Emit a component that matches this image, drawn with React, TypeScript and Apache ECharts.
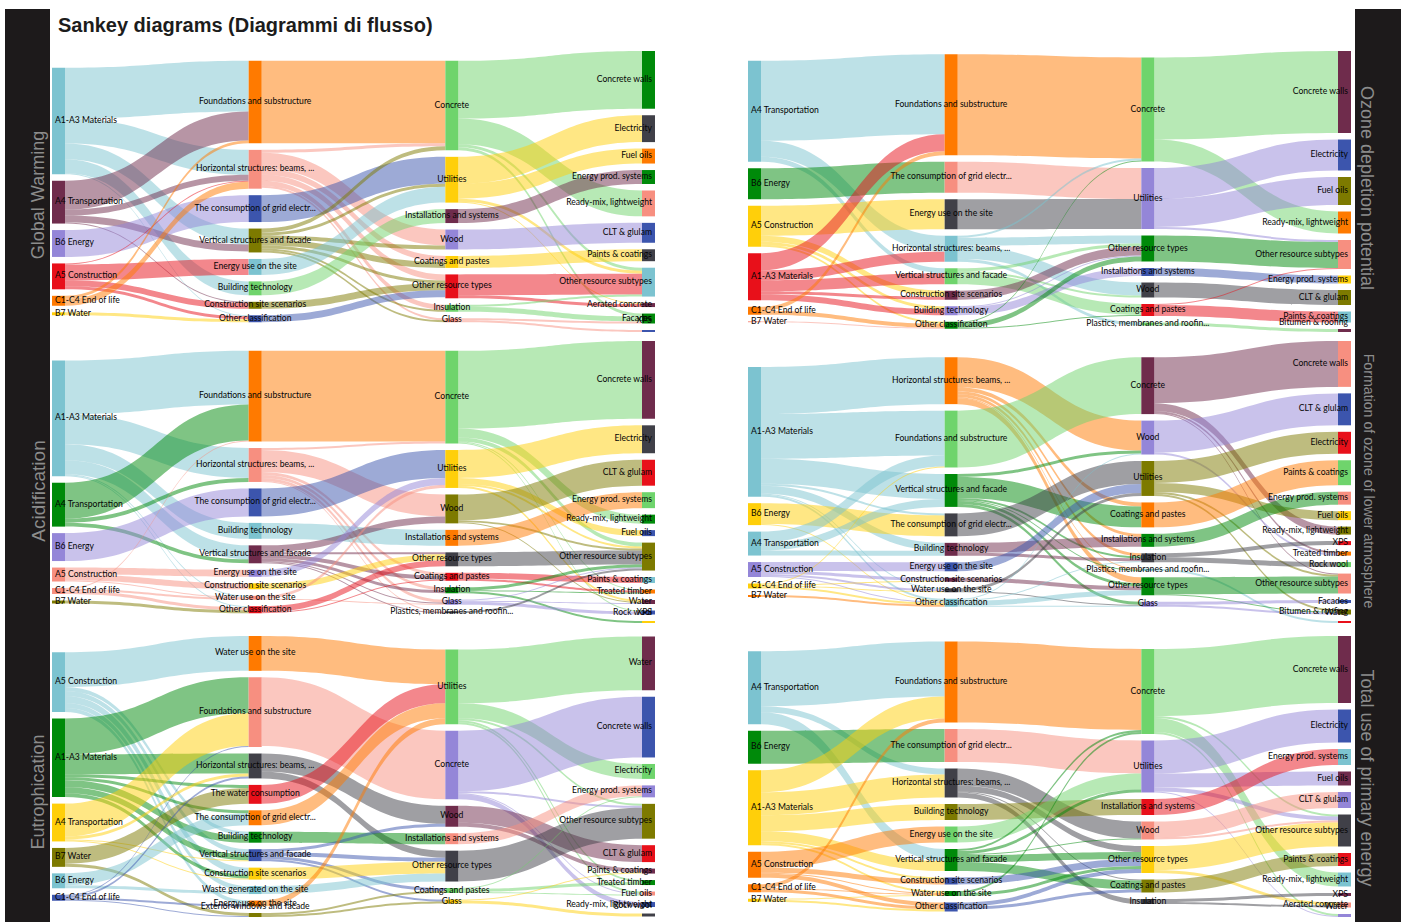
import React, { useEffect, useRef } from "react";
import * as echarts from "echarts";

const T = "#7cc3d0", M = "#6f2c4c", P = "#9486d8", R = "#e8101a", O = "#ff7a00", Y = "#ffcf0a";
const DG = "#008a0a", G = "#6fd46c", B = "#3c55ad", S = "#f78f80", L = "#7d7a00", K = "#404048";

type Flow = [number, number, number];

const START = ["A1-A3 Materials", "A4 Transportation", "B6 Energy", "A5 Construction", "C1-C4 End of life", "B7 Water"];

// Global Warming
const gwCols = [
  START,
  ["Foundations and substructure", "Horizontal structures: beams, ...", "The consumption of grid electr...", "Vertical structures and facade", "Energy use on the site", "Building technology", "Construction site scenarios", "Other classification"],
  ["Concrete", "Utilities", "Installations and systems", "Wood", "Coatings and pastes", "Other resource types", "Insulation", "Glass"],
  ["Concrete walls", "Electricity", "Fuel oils", "Energy prod. systems", "Ready-mix, lightweight", "CLT & glulam", "Paints & coatings", "Other resource subtypes", "Aerated concrete", "Facades", "XPS"],
];
const gw12: Flow[] = [[0,0,51],[0,1,25],[0,3,16],[0,5,14],[0,7,1],[1,0,29],[1,1,6],[1,3,7],[1,6,1],[2,2,27],[3,4,16],[3,6,6],[3,7,3],[3,1,1],[4,0,3],[4,1,7],[5,7,3]];
const gw23: Flow[] = [[0,0,83],[1,3,16],[1,0,3],[1,4,6],[1,5,6],[1,6,5],[1,7,2],[2,1,27],[3,0,4],[3,1,3],[3,3,4],[3,4,6],[3,5,3],[3,6,2],[3,7,2],[4,1,16],[5,2,14],[6,5,7],[7,5,7]];
const gw34: Flow[] = [[0,0,58],[0,4,26],[0,7,3],[0,9,3],[1,1,27],[1,2,15],[1,7,3],[1,8,1],[2,3,14],[3,5,20],[4,6,12],[5,7,21],[5,8,3],[6,9,5],[6,7,2],[7,10,2],[7,9,2]];
const gwColors = [[T,M,P,R,O,Y],[O,S,B,L,T,G,L,B],[G,Y,M,P,Y,R,G,S],[DG,K,O,DG,S,B,K,T,M,DG,B]];

// Acidification
const acCols = [
  START,
  ["Foundations and substructure", "Horizontal structures: beams, ...", "The consumption of grid electr...", "Building technology", "Vertical structures and facade", "Energy use on the site", "Construction site scenarios", "Water use on the site", "Other classification"],
  ["Concrete", "Utilities", "Wood", "Installations and systems", "Other resource types", "Coatings and pastes", "Insulation", "Glass", "Plastics, membranes and roofin..."],
  ["Concrete walls", "Electricity", "CLT & glulam", "Energy prod. systems", "Ready-mix, lightweight", "Fuel oils", "Other resource subtypes", "Paints & coatings", "Treated timber", "Water", "Rock wool", "XPS"],
];
const ac12: Flow[] = [[0,0,54],[0,1,30],[0,3,16],[0,4,14],[0,8,1],[0,7,1],[1,0,36],[1,1,4],[1,4,4],[2,2,28],[3,5,7],[3,6,6],[3,7,1],[4,0,1],[4,7,2],[4,8,3],[5,8,3]];
const ac23: Flow[] = [[0,0,91],[1,0,2],[1,2,22],[1,5,3],[1,6,3],[1,7,3],[1,8,1],[2,1,28],[3,3,16],[4,2,7],[4,4,2],[4,5,4],[4,6,3],[4,7,1],[4,8,1],[5,1,7],[6,4,6],[7,1,3],[7,7,1],[8,4,6],[8,5,1]];
const ac34: Flow[] = [[0,0,78],[0,4,9],[0,6,4],[0,8,1],[0,10,1],[1,1,28],[1,5,6],[1,6,2],[1,9,2],[2,2,26],[2,6,2],[2,9,1],[3,3,16],[4,6,14],[5,7,6],[5,8,2],[6,6,3],[6,11,2],[6,8,1],[7,10,3],[7,9,1],[7,6,1],[8,6,2]];
const acColors = [[T,DG,P,S,S,L],[O,S,B,T,M,P,Y,S,R],[G,Y,L,O,K,R,DG,P,K],[M,K,R,G,DG,B,L,T,O,M,B,Y]];

// Eutrophication
const euCols = [
  ["A5 Construction", "A1-A3 Materials", "A4 Transportation", "B7 Water", "B6 Energy", "C1-C4 End of life"],
  ["Water use on the site", "Foundations and substructure", "Horizontal structures: beams, ...", "The water consumption", "The consumption of grid electr...", "Building technology", "Vertical structures and facade", "Construction site scenarios", "Waste generated on the site", "Energy use on the site", "Exterior windows and facade"],
  ["Utilities", "Concrete", "Wood", "Installations and systems", "Other resource types", "Coatings and pastes", "Glass"],
  ["Water", "Concrete walls", "Electricity", "Energy prod. systems", "Other resource subtypes", "CLT & glulam", "Paints & coatings", "Treated timber", "Fuel oils", "Ready-mix, lightweight", "Rock wool"],
];
const eu12: Flow[] = [[0,0,35],[0,5,4],[0,6,5],[0,7,7],[0,8,5],[0,9,4],[1,1,36],[1,2,20],[1,3,3],[1,4,3],[1,5,7],[1,6,6],[1,7,4],[2,1,33],[2,2,3],[2,6,1],[2,7,1],[3,3,16],[3,10,3],[4,4,12],[4,8,3],[5,1,1],[5,2,2],[5,10,1],[5,9,2]];
const eu23: Flow[] = [[0,0,35],[1,1,69],[2,2,18],[2,4,7],[3,0,19],[4,0,15],[5,3,11],[6,2,3],[6,4,4],[6,5,3],[6,6,2],[7,4,12],[8,4,8],[9,0,6],[10,5,2],[10,6,2]];
const eu34: Flow[] = [[0,0,54],[0,2,15],[0,4,2],[0,7,2],[0,8,2],[1,1,61],[1,4,2],[1,9,5],[1,8,1],[2,5,17],[2,6,4],[3,3,11],[4,4,31],[5,7,3],[5,3,1],[5,8,1],[6,10,3],[6,6,1]];
const euColors = [[T,DG,Y,L,T,B],[O,S,K,R,O,DG,B,Y,T,O,L],[G,P,M,S,K,G,Y],[M,B,G,P,L,R,M,DG,S,B,K]];

// Ozone depletion potential
const ozCols = [
  ["A4 Transportation", "B6 Energy", "A5 Construction", "A1-A3 Materials", "C1-C4 End of life", "B7 Water"],
  ["Foundations and substructure", "The consumption of grid electr...", "Energy use on the site", "Horizontal structures: beams, ...", "Vertical structures and facade", "Construction site scenarios", "Building technology", "Other classification"],
  ["Concrete", "Utilities", "Other resource types", "Installations and systems", "Wood", "Coatings and pastes", "Plastics, membranes and roofin..."],
  ["Concrete walls", "Electricity", "Fuel oils", "Ready-mix, lightweight", "Other resource subtypes", "Energy prod. systems", "CLT & glulam", "Paints & coatings", "Bitumen & roofing"],
];
const oz12: Flow[] = [[0,0,80],[0,3,16],[0,4,5],[1,1,31],[2,2,30],[2,5,6],[2,6,3],[2,7,2],[3,0,17],[3,3,10],[3,4,11],[3,5,3],[3,6,6],[4,0,4],[4,7,4],[5,7,1]];
const oz23: Flow[] = [[0,0,101],[1,1,31],[2,1,30],[3,0,2],[3,2,8],[3,4,13],[3,6,3],[4,5,11],[4,4,2],[4,2,3],[5,2,9],[6,3,8],[6,2,1],[7,2,5],[7,0,1],[7,5,1]];
const oz34: Flow[] = [[0,0,82],[0,3,22],[1,1,31],[1,2,28],[1,4,2],[2,4,26],[3,5,8],[4,6,15],[5,7,11],[5,4,1],[6,8,3]];
const ozColors = [[T,DG,Y,R,O,S],[O,S,K,T,G,M,P,DG],[G,P,DG,B,K,R,G],[M,B,L,O,S,Y,L,T,M]];

// Formation of ozone of lower atmosphere
const foCols = [
  ["A1-A3 Materials", "B6 Energy", "A4 Transportation", "A5 Construction", "C1-C4 End of life", "B7 Water"],
  ["Horizontal structures: beams, ...", "Foundations and substructure", "Vertical structures and facade", "The consumption of grid electr...", "Building technology", "Energy use on the site", "Construction site scenarios", "Water use on the site", "Other classification"],
  ["Concrete", "Wood", "Utilities", "Coatings and pastes", "Installations and systems", "Insulation", "Plastics, membranes and roofin...", "Other resource types", "Glass"],
  ["Concrete walls", "CLT & glulam", "Electricity", "Paints & coatings", "Energy prod. systems", "Fuel oils", "Ready-mix, lightweight", "XPS", "Treated timber", "Rock wool", "Other resource subtypes", "Facades", "Bitumen & roofing", "Water"],
];
const fo12: Flow[] = [[0,0,47],[0,1,45],[0,2,25],[0,4,8],[0,3,2],[0,7,1],[0,8,2],[1,3,21],[1,8,1],[2,1,11],[2,2,8],[2,4,5],[3,5,9],[3,6,3],[3,7,2],[3,8,1],[4,1,1],[4,8,2],[4,6,1],[4,7,1],[5,8,2]];
const fo23: Flow[] = [[0,1,30],[0,3,4],[0,4,3],[0,5,3],[0,7,6],[0,6,1],[1,0,57],[2,3,21],[2,1,3],[2,5,2],[2,7,3],[2,8,3],[2,6,1],[3,2,23],[4,4,10],[4,5,3],[5,2,9],[6,7,4],[7,2,3],[7,8,1],[8,7,5],[8,5,1],[8,8,1],[8,1,1]];
const fo34: Flow[] = [[0,0,46],[0,6,8],[0,8,2],[0,10,1],[1,1,32],[1,8,2],[2,2,22],[2,5,9],[2,10,2],[2,12,2],[3,3,25],[4,4,13],[5,7,4],[5,9,5],[6,13,2],[7,10,17],[7,12,1],[8,11,3],[8,12,2]];
const foColors = [[T,Y,T,P,Y,O],[O,G,DG,K,M,B,M,K,T],[M,P,L,O,DG,K,T,DG,P],[S,B,R,G,S,Y,L,R,O,G,S,B,L,R]];

// Total use of primary energy
const teCols = [
  ["A4 Transportation", "B6 Energy", "A1-A3 Materials", "A5 Construction", "C1-C4 End of life", "B7 Water"],
  ["Foundations and substructure", "The consumption of grid electr...", "Horizontal structures: beams, ...", "Building technology", "Energy use on the site", "Vertical structures and facade", "Construction site scenarios", "Water use on the site", "Other classification"],
  ["Concrete", "Utilities", "Installations and systems", "Wood", "Other resource types", "Coatings and pastes", "Insulation"],
  ["Concrete walls", "Electricity", "Energy prod. systems", "Fuel oils", "CLT & glulam", "Other resource subtypes", "Paints & coatings", "Ready-mix, lightweight", "XPS", "Aerated concrete", "Water"],
];
const te12: Flow[] = [[0,0,55],[0,2,6],[0,5,12],[1,1,33],[2,0,22],[2,2,23],[2,3,16],[2,5,10],[2,6,2],[2,7,2],[3,4,16],[3,6,5],[3,7,1],[3,8,4],[4,0,4],[4,7,1],[4,8,3],[5,8,2],[5,7,1]];
const te23: Flow[] = [[0,0,81],[1,1,33],[2,3,17],[2,4,6],[2,6,5],[2,5,1],[3,2,16],[4,1,16],[5,5,9],[5,4,7],[5,1,3],[5,0,2],[5,3,1],[6,4,7],[7,4,3],[7,0,2],[8,4,4],[8,5,3]];
const te34: Flow[] = [[0,0,67],[0,7,14],[0,5,2],[0,10,2],[1,1,33],[1,3,14],[1,5,4],[1,10,1],[2,2,16],[3,4,16],[3,5,2],[4,5,24],[4,9,3],[5,6,13],[6,8,3],[6,9,2]];
const teColors = [[T,DG,Y,O,O,Y],[O,S,K,L,G,DG,B,DG,B],[G,P,R,S,Y,L,K],[M,B,T,M,P,K,R,T,M,S,P]];

const FONT = "Lato, 'Noto Sans', sans-serif";
const NODE_W = 13;
const GAP = 6.5;

// labels that sit above their own tiny node in the reference: "column-node": lift
const panels = [
  { cols: gwCols, flows: [gw12, gw23, gw34], colors: gwColors, left: 52, top: 51, height: 281, lifts: { "3-10": 10 } },
  { cols: acCols, flows: [ac12, ac23, ac34], colors: acColors, left: 52, top: 341, height: 282, lifts: { "3-11": 9 } },
  { cols: euCols, flows: [eu12, eu23, eu34], colors: euColors, left: 52, top: 636, height: 281, lifts: { "1-10": 8, "3-10": 9 } },
  { cols: ozCols, flows: [oz12, oz23, oz34], colors: ozColors, left: 748, top: 51, height: 281, lifts: { "3-8": 8 } },
  { cols: foCols, flows: [fo12, fo23, fo34], colors: foColors, left: 748, top: 341, height: 282, lifts: { "3-13": 9 } },
  { cols: teCols, flows: [te12, te23, te34], colors: teColors, left: 748, top: 636, height: 281, lifts: { "3-10": 9 } },
];

const idOf = (c: number, i: number) => `c${c}-${i}`;

function buildSeries(p: (typeof panels)[number]) {
  const { cols, flows, colors, left, top, height, lifts } = p;
  // node value = larger of inflow and outflow, the same rule the sankey layout uses
  const vals = cols.map((col, c) =>
    col.map((_, i) => {
      const inSum = c > 0 ? flows[c - 1].filter((f) => f[1] === i).reduce((s, f) => s + f[2], 0) : 0;
      const outSum = c < 3 ? flows[c].filter((f) => f[0] === i).reduce((s, f) => s + f[2], 0) : 0;
      return Math.max(inSum, outSum);
    })
  );
  const ky = Math.min(
    ...vals.map((v, c) => (height - (cols[c].length - 1) * GAP) / v.reduce((s, x) => s + x, 0))
  );
  const nodes: any[] = [];
  cols.forEach((col, c) => {
    const total = vals[c].reduce((s, x) => s + x, 0) * ky + (col.length - 1) * GAP;
    let y = (height - total) / 2;
    col.forEach((name, i) => {
      const lift = (lifts as Record<string, number>)[`${c}-${i}`] || 0;
      nodes.push({
        name: idOf(c, i),
        depth: c,
        localY: y / height,
        itemStyle: { color: colors[c][i], opacity: 1 },
        label: {
          show: true,
          formatter: name,
          position: c === 0 ? "insideLeft" : c === 3 ? "insideRight" : "inside",
          distance: c === 0 || c === 3 ? 3 : 0,
          offset: [0, -1 - lift],
        },
      });
      y += vals[c][i] * ky + GAP;
    });
  });
  const links: any[] = [];
  flows.forEach((fl, c) =>
    fl.forEach(([s, t, v]) => links.push({ source: idOf(c, s), target: idOf(c + 1, t), value: v }))
  );
  return {
    type: "sankey",
    left,
    top,
    width: 603,
    height,
    nodeWidth: NODE_W,
    nodeGap: GAP,
    layoutIterations: 0,
    nodeAlign: "justify",
    draggable: false,
    silent: true,
    emphasis: { disabled: true },
    data: nodes,
    links,
    label: { show: true, color: "#050505", fontFamily: FONT, fontSize: 8.6 },
    lineStyle: { color: "source", opacity: 0.5, curveness: 0.5 },
  };
}

const sideText = (text: string, x: number, y: number, rotation: number, fontSize: number) => ({
  type: "text",
  x,
  y,
  rotation,
  style: {
    text,
    fill: "#8c8c8c",
    font: `${fontSize}px 'Liberation Sans', sans-serif`,
    align: "center",
    verticalAlign: "middle",
  },
});

export default function App() {
  const ref = useRef<HTMLDivElement>(null);
  useEffect(() => {
    document.body.style.margin = "0";
    document.body.style.overflow = "hidden";
    const chart = echarts.init(ref.current!, undefined, { renderer: "svg" });
    chart.setOption({
      animation: false,
      backgroundColor: "#fff",
      graphic: [
        { type: "rect", shape: { x: 5, y: 9, width: 45, height: 913 }, style: { fill: "#1d1a1b" } },
        { type: "rect", shape: { x: 1355, y: 9, width: 46, height: 913 }, style: { fill: "#1d1a1b" } },
        {
          type: "text",
          x: 58,
          y: 25,
          style: {
            text: "Sankey diagrams (Diagrammi di flusso)",
            fill: "#1c1c1c",
            font: "bold 20px 'Liberation Sans', sans-serif",
            align: "left",
            verticalAlign: "middle",
          },
        },
        sideText("Global Warming", 38, 195, Math.PI / 2, 18),
        sideText("Acidification", 38, 491, Math.PI / 2, 19),
        sideText("Eutrophication", 38, 792, Math.PI / 2, 18),
        sideText("Ozone depletion potential", 1367, 188, -Math.PI / 2, 18),
        sideText("Formation of ozone of lower atmosphere", 1369, 481, -Math.PI / 2, 14.2),
        sideText("Total use of primary energy", 1367, 778, -Math.PI / 2, 18),
      ],
      series: panels.map(buildSeries),
    });
    return () => chart.dispose();
  }, []);
  return <div ref={ref} style={{ width: 1407, height: 922 }} />;
}
